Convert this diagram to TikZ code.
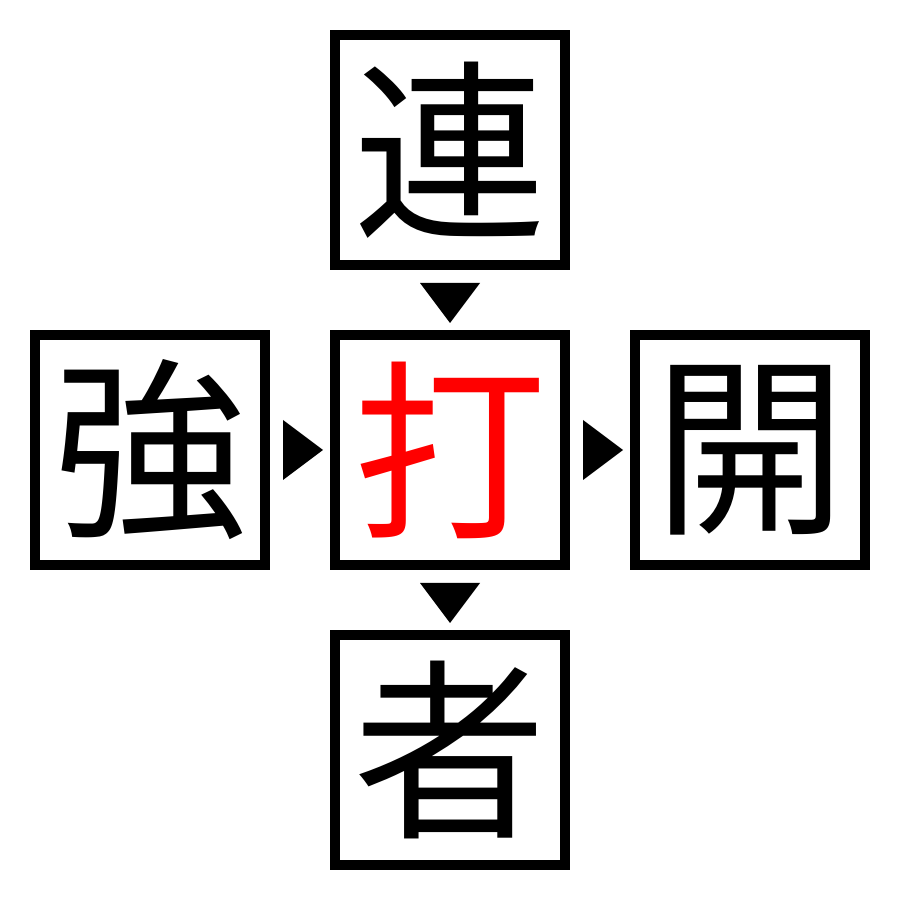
\documentclass[tikz,border=0pt]{standalone}
\usepackage{fontspec}
\newfontfamily\cjk{Noto Sans CJK JP}
\begin{document}
\begin{tikzpicture}[x=0.01cm,y=0.01cm,
  kbox/.style={draw=black,line width=0.1cm,minimum size=2.3cm,inner sep=0pt,font=\cjk\fontsize{55}{55}\selectfont},
  tri/.style={fill=black}]
\useasboundingbox (0,0) rectangle (900,900);
\node[kbox] (top) at (450,750) {連};
\node[kbox] (left) at (150,450) {強};
\node[kbox,text=red] (mid) at (450,450) {打};
\node[kbox] (right) at (750,450) {開};
\node[kbox] (bot) at (450,150) {者};
\fill[tri] (420,617) -- (480,617) -- (450,577) -- cycle;
\fill[tri] (420,317) -- (480,317) -- (450,277) -- cycle;
\fill[tri] (283,480) -- (283,420) -- (323,450) -- cycle;
\fill[tri] (583,480) -- (583,420) -- (623,450) -- cycle;
\end{tikzpicture}
\end{document}
